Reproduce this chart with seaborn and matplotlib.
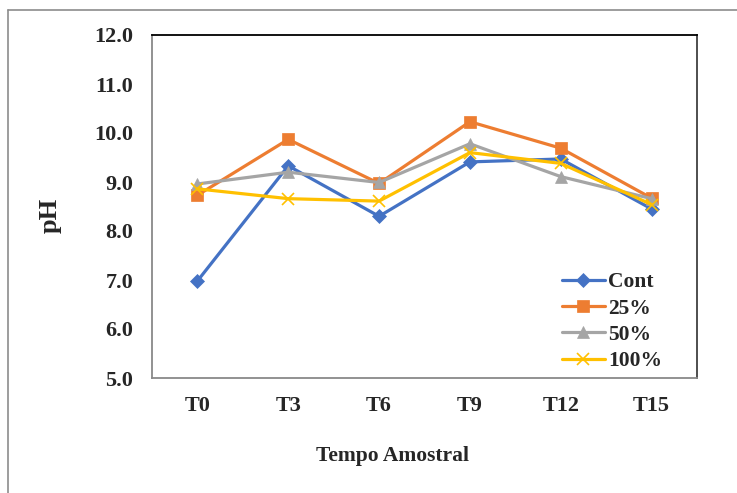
import matplotlib
matplotlib.use("Agg")
import matplotlib.pyplot as plt
import matplotlib.lines as mlines
import seaborn as sns
import pandas as pd

times = ["T0", "T3", "T6", "T9", "T12", "T15"]
cont = [6.98, 9.33, 8.30, 9.41, 9.47, 8.45]
p25 = [8.73, 9.87, 8.97, 10.23, 9.69, 8.67]
p50 = [8.96, 9.20, 8.99, 9.78, 9.11, 8.66]
p100 = [8.86, 8.66, 8.61, 9.60, 9.38, 8.54]
series_names = ["Cont", "25%", "50%", "100%"]
y_ticks = [5.0, 6.0, 7.0, 8.0, 9.0, 10.0, 11.0, 12.0]

colors = {"Cont": "#4472C4", "25%": "#ED7D31", "50%": "#A5A5A5", "100%": "#FFC000"}
markers = {"Cont": "D", "25%": "s", "50%": "^", "100%": "x"}
msizes = {"Cont": 7, "25%": 9, "50%": 9, "100%": 9}

rows = []
for name, vals in zip(series_names, [cont, p25, p50, p100]):
    for i, (t, v) in enumerate(zip(times, vals)):
        rows.append({"idx": i, "tempo": t, "pH": v, "serie": name})
df = pd.DataFrame(rows)

sns.set_theme(style="white")
plt.rcParams["font.family"] = ["Liberation Serif", "DejaVu Serif"]
plt.rcParams["font.weight"] = "bold"

W, H = 737, 493
fig = plt.figure(figsize=(W / 100, H / 100), dpi=100)
ax = fig.add_axes([152 / W, 1 - 378 / H, (697 - 152) / W, (378 - 35) / H])

for name in series_names:
    sub = df[df["serie"] == name]
    sns.lineplot(data=sub, x="idx", y="pH", ax=ax, color=colors[name],
                 marker=markers[name], markersize=msizes[name],
                 markeredgecolor=colors[name], markeredgewidth=1.2 if name == "100%" else 0.5,
                 linewidth=2.3, label=name, legend=False)

ax.set_xlim(-0.5, len(times) - 0.5)
ax.set_ylim(5.0, 12.0)
ax.set_yticks(y_ticks)
ax.set_yticklabels([f"{v:.1f}" for v in y_ticks], fontsize=16, fontweight="bold")

# Category labels centred, tick marks between categories
ax.set_xticks([i - 0.5 for i in range(len(times) + 1)])
ax.set_xticklabels([""] * (len(times) + 1))
ax.set_xticks(range(len(times)), minor=True)
ax.set_xticklabels(times, minor=True, fontsize=16, fontweight="bold")
ax.tick_params(axis="x", which="major", direction="out", length=6, width=1, color="#898989")
ax.tick_params(axis="x", which="minor", length=0, pad=13)
ax.tick_params(axis="y", direction="out", length=5, width=1, color="#898989", pad=8.5)

for side in ["left", "bottom"]:
    ax.spines[side].set_color("#898989")
    ax.spines[side].set_linewidth(1.3)
ax.spines["top"].set_color("black")
ax.spines["top"].set_linewidth(1.3)
ax.spines["right"].set_color("#404040")
ax.spines["right"].set_linewidth(1.3)

ax.set_xlabel("")
ax.set_ylabel("")
fig.text(393 / W, 1 - 456 / H, "Tempo Amostral", ha="center", va="center",
         fontsize=15.5, fontweight="bold")
fig.text(50 / W, 1 - 215 / H, "pH", ha="center", va="center", rotation=90,
         fontsize=19, fontweight="bold")

handles = [mlines.Line2D([], [], color=colors[n], marker=markers[n], markersize=msizes[n],
                         markeredgecolor=colors[n], linewidth=2.3,
                         markeredgewidth=1.2 if n == "100%" else 0.5)
           for n in series_names]
ax.legend(handles, series_names, loc="lower left", bbox_to_anchor=(0.752, 0.020),
          frameon=False, prop={"family": "Liberation Serif", "weight": "bold", "size": 15.5},
          handlelength=2.0, handletextpad=0.15, labelspacing=0.29, borderpad=0,
          borderaxespad=0)

# Outer chart-area frame
fig.add_artist(mlines.Line2D([8 / W, 8 / W], [0, 1 - 10 / H], color="#8c8c8c", lw=1.2,
                             transform=fig.transFigure))
fig.add_artist(mlines.Line2D([8 / W, 1], [1 - 10 / H, 1 - 10 / H], color="#8c8c8c", lw=1.2,
                             transform=fig.transFigure))

fig.savefig("out.png", dpi=100)
